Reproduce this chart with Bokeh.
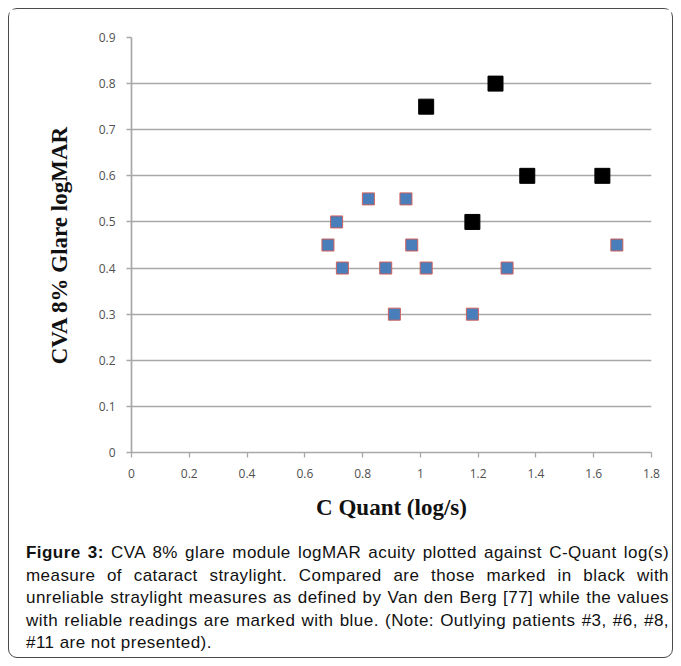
from bokeh.plotting import figure
from bokeh.models import Div, FixedTicker, CustomJSTickFormatter
from bokeh.layouts import column
from bokeh.embed import file_html
from bokeh.resources import INLINE

# ---- data ----
unreliable_x = [1.02, 1.26, 1.37, 1.63, 1.18]
unreliable_y = [0.75, 0.80, 0.60, 0.60, 0.50]

reliable_x = [0.82, 0.95, 0.71, 0.68, 0.97, 0.73, 0.88, 1.02, 1.30, 0.91, 1.18, 1.68]
reliable_y = [0.55, 0.55, 0.50, 0.45, 0.45, 0.40, 0.40, 0.40, 0.40, 0.30, 0.30, 0.45]

x_ticks = [0, 0.2, 0.4, 0.6, 0.8, 1.0, 1.2, 1.4, 1.6, 1.8]
y_ticks = [0, 0.1, 0.2, 0.3, 0.4, 0.5, 0.6, 0.7, 0.8, 0.9]

x_label = "C Quant (log/s)"
y_label = "CVA 8% Glare logMAR"

caption_lines = [
    "<b>Figure 3:</b> CVA 8% glare module logMAR acuity plotted against C-Quant log(s)",
    "measure of cataract straylight. Compared are those marked in black with",
    "unreliable straylight measures as defined by Van den Berg [77] while the values",
    "with reliable readings are marked with blue. (Note: Outlying patients #3, #6, #8,",
    "#11 are not presented).",
]

GRID = "#A8A8A8"

p = figure(width=662, height=525, x_range=(0, 1.8), y_range=(0, 0.9),
           output_backend="svg", toolbar_location=None,
           min_border_left=122, min_border_right=20,
           min_border_top=28, min_border_bottom=82)
p.outline_line_color = None
p.background_fill_color = "white"
p.border_fill_color = "white"

p.xgrid.visible = False
p.ygrid.ticker = FixedTicker(ticks=y_ticks)
p.ygrid.grid_line_color = GRID
p.ygrid.grid_line_width = 1.7

fmt = CustomJSTickFormatter(code="var s = tick.toFixed(1); return s.endsWith('.0') ? s.slice(0, -2) : s;")

p.xaxis.ticker = FixedTicker(ticks=x_ticks)
p.yaxis.ticker = FixedTicker(ticks=y_ticks)
for ax in (p.xaxis[0], p.yaxis[0]):
    ax.formatter = fmt
    ax.axis_line_color = GRID
    ax.axis_line_width = 1.7
    ax.major_tick_line_color = GRID
    ax.major_tick_line_width = 1.3
    ax.major_tick_in = 0
    ax.major_tick_out = 5
    ax.minor_tick_line_color = None
    ax.major_label_text_font = "Open Sans"
    ax.major_label_text_font_size = "12px"
    ax.major_label_text_color = "#505050"
    ax.axis_label_text_font = "Liberation Serif"
    ax.axis_label_text_font_style = "bold"
    ax.axis_label_text_font_size = "23px"
    ax.axis_label_text_color = "#111111"

p.xaxis.axis_label = x_label
p.yaxis.axis_label = y_label
p.xaxis.major_label_standoff = 11
p.xaxis.axis_label_standoff = 14
p.yaxis.major_label_standoff = 11
p.yaxis.axis_label_standoff = 24

p.scatter(reliable_x, reliable_y, marker="square", size=12,
          fill_color="#4A7EBB", line_color="#D0605C", line_width=1)
p.scatter(unreliable_x, unreliable_y, marker="square", size=15,
          fill_color="black", line_color="black", line_width=1)

line_divs = []
for i, ln in enumerate(caption_lines):
    last = "left" if i == len(caption_lines) - 1 else "justify"
    line_divs.append(
        f'<div style="text-align:justify;text-align-last:{last};">{ln}</div>')

html = ('<div style="width:643px;margin-left:12px;padding-top:3px;'
        "font-family:'Liberation Sans', Arial, sans-serif;font-size:17px;"
        'letter-spacing:0.45px;line-height:22.5px;color:#111111;">'
        + "".join(line_divs) + "</div>")

cap = Div(text=html, width=662, height=122)

layout = column(p, cap, spacing=0, width=665, height=650,
                styles={"border": "1.5px solid #4a4a4a", "border-radius": "9px",
                        "background-color": "white", "margin": "8px"})

open("out.html", "w").write(file_html(layout, INLINE))
